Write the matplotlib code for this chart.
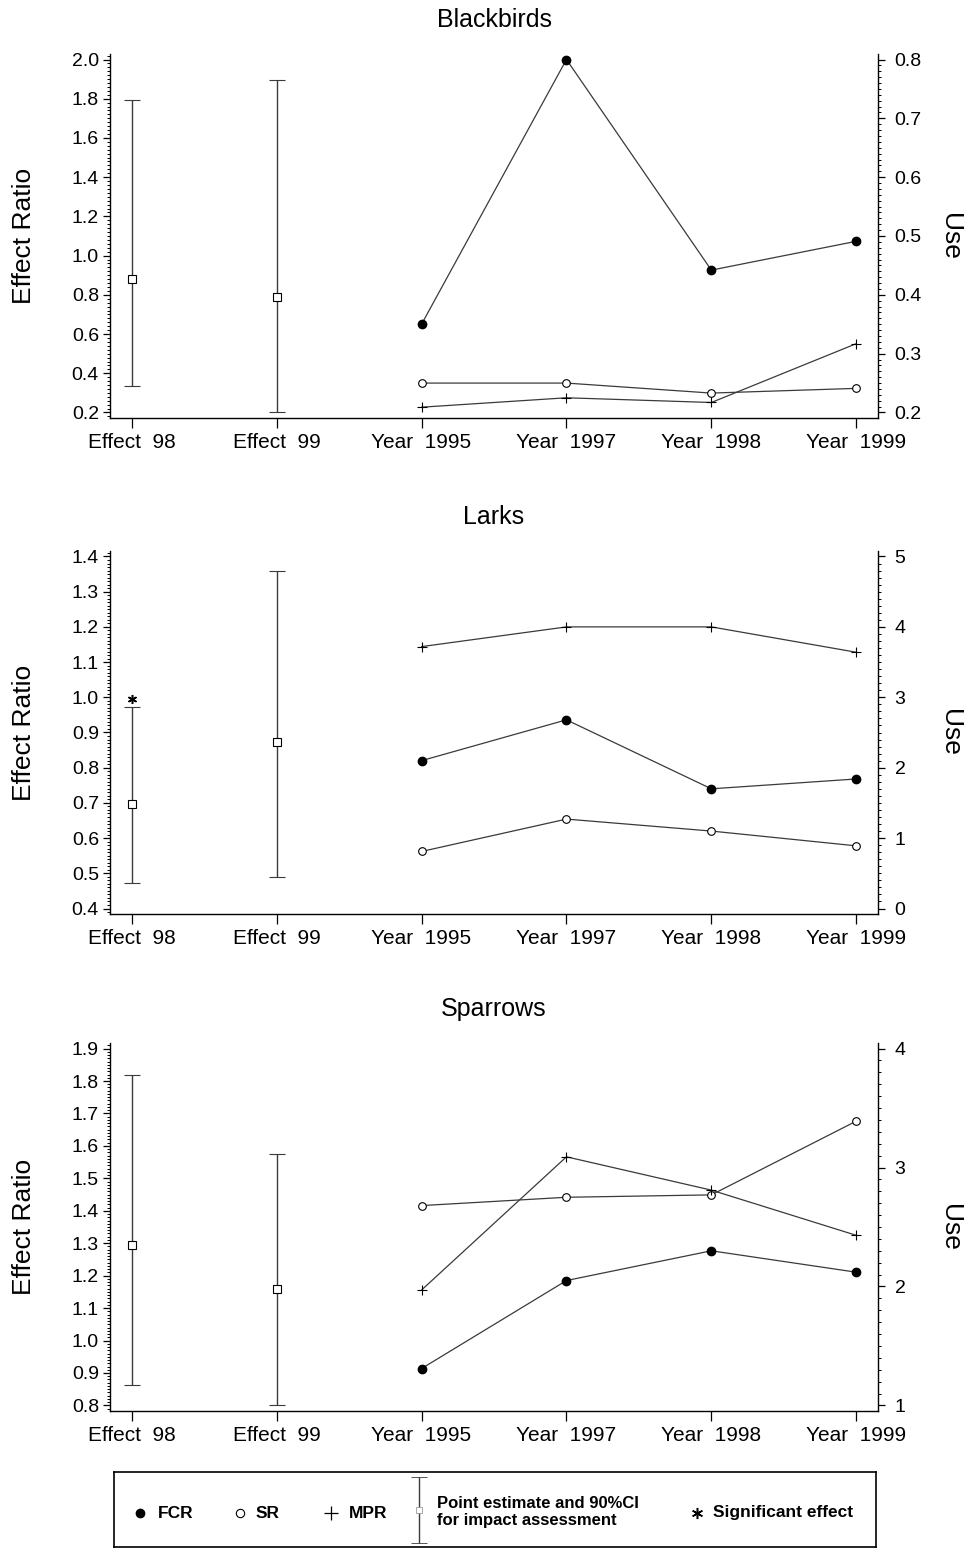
import matplotlib
matplotlib.use('Agg')
import matplotlib.pyplot as plt
import matplotlib.transforms as mtransforms
from matplotlib.ticker import MultipleLocator, AutoMinorLocator, FormatStrFormatter

plt.rcParams['font.family'] = ['Liberation Sans', 'DejaVu Sans']

# x categories shared by all three panels
categories = ['Effect  98', 'Effect  99', 'Year  1995', 'Year  1997', 'Year  1998', 'Year  1999']
n_effects = 2

# Blackbirds
bb_est = [0.883, 0.791]
bb_lo = [0.333, 0.205]
bb_hi = [1.796, 1.893]
bb_sig = [False, False]
bb_fcr = [0.350, 0.800, 0.442, 0.491]
bb_sr = [0.250, 0.250, 0.233, 0.241]
bb_mpr = [0.209, 0.225, 0.217, 0.317]

# Larks
lk_est = [0.696, 0.874]
lk_lo = [0.472, 0.490]
lk_hi = [0.972, 1.359]
lk_sig = [True, False]
lk_fcr = [2.10, 2.68, 1.70, 1.84]
lk_sr = [0.81, 1.27, 1.10, 0.89]
lk_mpr = [3.72, 4.00, 4.00, 3.64]

# Sparrows
sp_est = [1.295, 1.158]
sp_lo = [0.864, 0.802]
sp_hi = [1.819, 1.576]
sp_sig = [False, False]
sp_fcr = [1.31, 2.05, 2.30, 2.12]
sp_sr = [2.68, 2.75, 2.77, 3.39]
sp_mpr = [1.97, 3.09, 2.81, 2.43]

W, H = 969, 1549
fig = plt.figure(figsize=(W / 100, H / 100), dpi=100)

LINE = '#3a3a3a'


def px_rect(left, top, right, bottom):
    return [left / W, 1 - bottom / H, (right - left) / W, (bottom - top) / H]


def padded(lo, hi, frac=0.0156):
    d = (hi - lo) * frac
    return lo - d, hi + d


def draw_panel(rect, title, est, lo, hi, sig, fcr, sr, mpr, left_ax, right_ax):
    ax = fig.add_axes(rect)
    ax2 = ax.twinx()

    xpos = list(range(len(categories)))
    ex = xpos[:n_effects]
    yx = xpos[n_effects:]

    # effect ratios with 90% CI
    err = [[e - l for e, l in zip(est, lo)], [h - e for e, h in zip(est, hi)]]
    ax.errorbar(ex, est, yerr=err, fmt='s', ms=5.5, mfc='white', mec='black', mew=0.8,
                ecolor=LINE, elinewidth=1.0, capsize=6, capthick=1.0, zorder=3)
    star_tr = mtransforms.offset_copy(ax.transData, fig=fig, x=0, y=8, units='dots')
    for x, h, s in zip(ex, hi, sig):
        if s:
            ax.plot(x, h, marker=(6, 2, 0), ms=6.5, color='black', mew=1.1, transform=star_tr,
                    clip_on=False)

    # use series on the right axis
    ax2.plot(yx, fcr, '-o', color=LINE, lw=0.9, ms=6, mfc='black', mec='black')
    ax2.plot(yx, sr, '-o', color=LINE, lw=0.9, ms=5.5, mfc='white', mec='black', mew=0.8)
    ax2.plot(yx, mpr, '-+', color=LINE, lw=0.9, ms=7, mec='black', mew=0.8)

    ax.set_xlim(-0.15, len(categories) - 1 + 0.15)
    ax.set_xticks(xpos)
    ax.set_xticklabels(categories)

    lo_l, hi_l, st_l, fmt_l = left_ax
    ax.set_ylim(*padded(lo_l, hi_l))
    ax.yaxis.set_major_locator(MultipleLocator(st_l))
    ax.yaxis.set_minor_locator(AutoMinorLocator(10))
    ax.yaxis.set_major_formatter(FormatStrFormatter(fmt_l))

    lo_r, hi_r, st_r, fmt_r = right_ax
    ax2.set_ylim(*padded(lo_r, hi_r))
    ax2.yaxis.set_major_locator(MultipleLocator(st_r))
    ax2.yaxis.set_minor_locator(AutoMinorLocator(10))
    ax2.yaxis.set_major_formatter(FormatStrFormatter(fmt_r))

    for a in (ax, ax2):
        a.spines['top'].set_visible(False)
        for sp in a.spines.values():
            sp.set_linewidth(1.0)
    ax.spines['right'].set_visible(False)
    ax2.spines['left'].set_visible(False)
    ax2.spines['bottom'].set_visible(False)

    ax.tick_params(axis='x', direction='out', length=7, width=0.9, labelsize=15, pad=4)
    ax.tick_params(axis='y', which='major', direction='out', length=5, width=0.9,
                   labelsize=14, pad=3)
    ax.tick_params(axis='y', which='minor', direction='out', length=2.5, width=0.7)
    ax2.tick_params(axis='y', which='major', direction='out', length=5, width=0.9,
                    labelsize=14, pad=7)
    ax2.tick_params(axis='y', which='minor', direction='out', length=2.5, width=0.7)

    ax.text(0.5, 1.093, title, transform=ax.transAxes, ha='center', va='center', fontsize=18)
    ax.text(-0.112, 0.5, 'Effect Ratio', transform=ax.transAxes, rotation=90,
            ha='center', va='center', fontsize=19)
    ax2.text(1.094, 0.5, 'Use', transform=ax2.transAxes, rotation=270,
             ha='center', va='center', fontsize=19)
    return ax, ax2


draw_panel(px_rect(110, 54, 878, 418), 'Blackbirds', bb_est, bb_lo, bb_hi, bb_sig,
           bb_fcr, bb_sr, bb_mpr, (0.2, 2.0, 0.2, '%.1f'), (0.2, 0.8, 0.1, '%.1f'))
draw_panel(px_rect(110, 551, 878, 914), 'Larks', lk_est, lk_lo, lk_hi, lk_sig,
           lk_fcr, lk_sr, lk_mpr, (0.4, 1.4, 0.1, '%.1f'), (0, 5, 1, '%d'))
draw_panel(px_rect(110, 1043, 878, 1411), 'Sparrows', sp_est, sp_lo, sp_hi, sp_sig,
           sp_fcr, sp_sr, sp_mpr, (0.8, 1.9, 0.1, '%.1f'), (1, 4, 1, '%d'))

# legend box drawn in its own axes, coordinates in pixels
lg = fig.add_axes(px_rect(114, 1472, 876, 1547))
lg.set_xlim(0, 762)
lg.set_ylim(0, 75)
lg.set_xticks([])
lg.set_yticks([])
for sp in lg.spines.values():
    sp.set_linewidth(1.2)
yc = 34
lfont = dict(fontsize=12.5, fontweight='bold', va='center', ha='left')
lg.plot(26, yc, 'o', ms=6, mfc='black', mec='black')
lg.text(44, yc, 'FCR', **lfont)
lg.plot(126, yc, 'o', ms=6, mfc='white', mec='black', mew=0.8)
lg.text(142, yc, 'SR', **lfont)
lg.plot(217, yc, '+', ms=10, mec='black', mew=0.9)
lg.text(235, yc, 'MPR', **lfont)
lg.errorbar(305, 37, yerr=33, fmt='s', ms=4, mfc='white', mec='#999999', mew=0.6,
            ecolor=LINE, elinewidth=1.0, capsize=6, capthick=1.0)
lg.text(323, yc + 1, 'Point estimate and 90%CI\nfor impact assessment', linespacing=1.1,
        fontsize=12, fontweight='bold', va='center', ha='left')
lg.plot(583, yc, marker=(6, 2, 0), ms=8, color='black', mew=1.1)
lg.text(599, yc, 'Significant effect', **lfont)

fig.savefig('out.png', dpi=100)
